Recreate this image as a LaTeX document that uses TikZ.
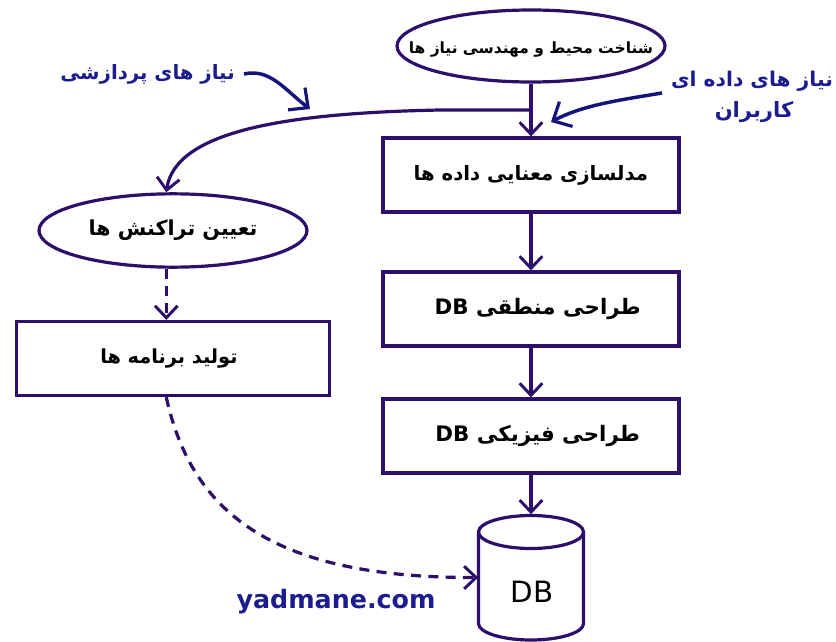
\documentclass[tikz,border=0pt]{standalone}
\usepackage{fontspec}
\usetikzlibrary{shapes.geometric,arrows.meta}
\TeXXeTstate=1
\newfontfamily\arabicfont[Script=Arabic]{DejaVu Sans}
\newfontfamily\latinfont{DejaVu Sans}
\newcommand{\fatext}[1]{\arabicfont\bfseries\beginR #1\endR}
\definecolor{lineC}{HTML}{2D0F6B}
\definecolor{blueC}{HTML}{1C1C8E}
\definecolor{navyC}{HTML}{14147A}
\tikzset{
  shapeline/.style={draw=lineC,line width=2.4pt,inner sep=0pt,text=black},
  boxnode/.style={shapeline,rectangle,minimum height=55.5pt},
  ovalnode/.style={shapeline,ellipse},
  conn/.style={draw=lineC,line width=2.4pt,-{Straight Barb[length=9pt,width=17pt,line width=2.2pt]}},
  dashconn/.style={conn,dash pattern=on 7.5pt off 5.5pt},
  blueconn/.style={draw=navyC,line width=2.6pt,-{Straight Barb[length=11pt,width=21pt,line width=2.4pt]}},
  bluelabel/.style={text=blueC,inner sep=0pt,align=center},
  dboutline/.style={draw=lineC,line width=2.4pt},
}
\begin{document}
\begin{tikzpicture}[x=0.75pt,y=-0.75pt]
\useasboundingbox (0,0) rectangle (836,642);
\fill[white] (0,0) rectangle (836,642);
\node[ovalnode,minimum width=201pt,minimum height=54pt,font=\fontsize{11.6}{15}\selectfont] (env) at (531,46) {\makebox[0pt]{\smash{\raisebox{-5.3pt}{\fatext{شناخت محیط و مهندسی نیاز ها}}}}};
\node[boxnode,font=\fontsize{14.8}{20}\selectfont,minimum width=222pt] (sem) at (531,175) {\fatext{مدلسازی معنایی داده ها}};
\node[boxnode,font=\fontsize{16}{20}\selectfont,minimum width=222pt] (log) at (531,309) {\makebox[0pt]{\hspace{10pt}\fatext{طراحی منطقی \beginL DB\endL}}};
\node[boxnode,font=\fontsize{16}{20}\selectfont,minimum width=222pt] (phy) at (531,436) {\makebox[0pt]{\hspace{10pt}\fatext{طراحی فیزیکی \beginL DB\endL}}};
\node[ovalnode,font=\fontsize{15.5}{20}\selectfont,minimum width=201pt,minimum height=55pt] (trn) at (173,230.5) {\makebox[0pt]{\fatext{تعیین تراکنش ها}}};
\node[boxnode,font=\fontsize{14.5}{20}\selectfont,minimum width=235pt] (prg) at (173,358.5) {\makebox[0pt]{\hspace{-6pt}\fatext{تولید برنامه ها}}};
\node[rectangle,minimum width=78.75pt,minimum height=94.5pt,inner sep=0pt] (db) at (531,577.5) {};
\draw[dboutline] (478.5,532) -- (478.5,623.5) .. controls (478.5,632.6) and (502,640) .. (531,640) .. controls (560,640) and (583.5,632.6) .. (583.5,623.5) -- (583.5,532);
\draw[dboutline] (531,532) ellipse [x radius=52.5,y radius=16.5];
\node[inner sep=0pt,font=\latinfont\fontsize{22}{24}\selectfont] (dbt) at (532,592) {DB};
\node[bluelabel,font=\latinfont\bfseries\fontsize{19}{22}\selectfont] (site) at (336,602) {yadmane.com};
\node[bluelabel,font=\fontsize{14.8}{26}\selectfont,anchor=east] (n1) at (235,74) {\fatext{نیاز های پردازشی}};
\node[bluelabel,font=\fontsize{15.2}{20}\selectfont] (n2) at (752,81) {\fatext{نیاز های داده ای}};
\node[bluelabel,font=\fontsize{15.8}{20}\selectfont] (n3) at (754,112) {\fatext{کاربران}};
\coordinate (branch) at (531,110);
\coordinate (t1) at (310,109);
\coordinate (t2) at (551,122);
\coordinate (dx) at (166.3,0);
\draw[conn] (env) -- (sem);
\draw[conn] (sem) -- (log);
\draw[conn] (log) -- (phy);
\draw[conn] (phy) -- (db.north);
\draw[conn] (branch) -- (440,110) .. controls (290,113) and (175,130) .. (dx |- trn.north);
\draw[dashconn] (dx |- trn.south) -- (dx |- prg.north);
\draw[dashconn] (dx |- prg.south) .. controls (192,515) and (275,578) .. (db.west);
\draw[blueconn] (n1.east) ++(9,0) .. controls (270,68) and (285,90) .. (t1);
\draw[blueconn] (662,93) .. controls (620,100) and (583,105) .. (t2);
\end{tikzpicture}
\end{document}
